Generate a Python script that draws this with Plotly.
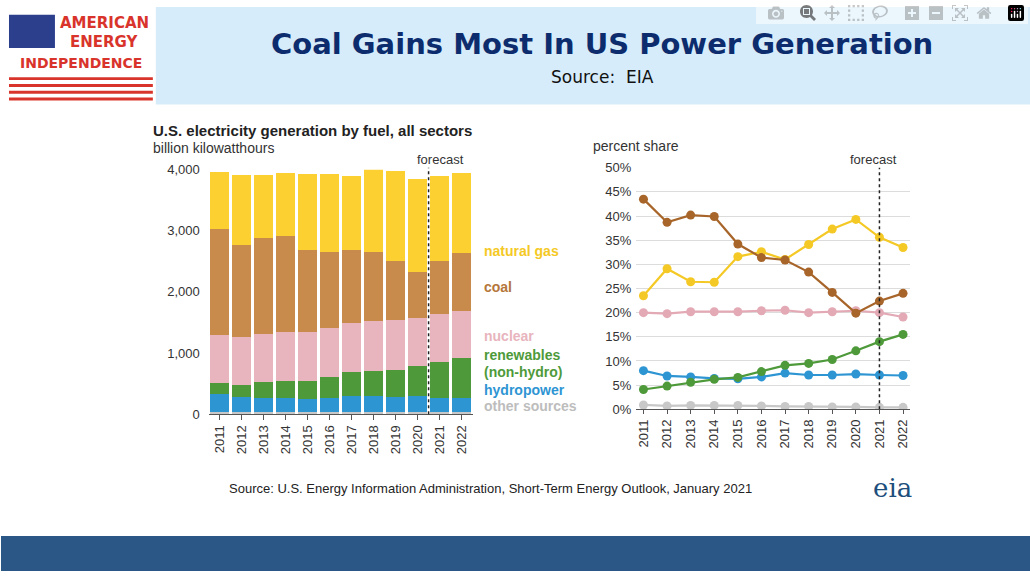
import plotly.graph_objects as go

years = list(range(2011, 2023))

# billion kWh, stacked segments
other_bkwh = [30] * 12
hydro_bkwh = [300, 250, 240, 230, 220, 240, 270, 260, 250, 260, 240, 240]
renew_bkwh = [180, 200, 250, 280, 300, 340, 390, 420, 440, 490, 580, 650]
nuclear_bkwh = [790, 790, 790, 800, 800, 800, 800, 810, 820, 800, 790, 760]
coal_bkwh = [1730, 1490, 1570, 1570, 1330, 1240, 1200, 1140, 960, 750, 860, 950]
gas_bkwh = [930, 1150, 1040, 1040, 1250, 1280, 1200, 1350, 1480, 1520, 1390, 1320]

# percent share
coal_pct = [43.5, 38.7, 40.2, 39.9, 34.2, 31.4, 30.9, 28.4, 24.2, 19.9, 22.4, 24.0]
gas_pct = [23.5, 29.1, 26.4, 26.3, 31.6, 32.6, 31.0, 34.1, 37.3, 39.3, 35.6, 33.5]
nuclear_pct = [20.0, 19.8, 20.2, 20.2, 20.2, 20.4, 20.5, 20.0, 20.2, 20.4, 20.0, 19.1]
renew_pct = [4.1, 4.8, 5.6, 6.2, 6.6, 7.8, 9.1, 9.5, 10.3, 12.1, 14.0, 15.5]
hydro_pct = [8.0, 6.9, 6.7, 6.4, 6.3, 6.7, 7.5, 7.1, 7.1, 7.3, 7.1, 7.0]
other_pct = [0.9, 0.7, 0.8, 0.8, 0.8, 0.7, 0.6, 0.6, 0.5, 0.5, 0.4, 0.4]
pct_ticks = list(range(0, 55, 5))

W, H = 1030, 579
def px(x): return x / W
def py(y): return 1 - y / H

fig = go.Figure()

bars = [(other_bkwh, "#c8c8c8"), (hydro_bkwh, "#2e95d3"), (renew_bkwh, "#4e9a3a"),
        (nuclear_bkwh, "#e8b4bd"), (coal_bkwh, "#c98b4b"), (gas_bkwh, "#fcd030")]
for vals, col in bars:
    fig.add_trace(go.Bar(x=years, y=vals, marker_color=col, marker_line_width=0,
                         xaxis="x", yaxis="y", showlegend=False))

lines = [(other_pct, "#c8c8c8"), (hydro_pct, "#2e95d3"), (renew_pct, "#4e9a3a"),
         (nuclear_pct, "#e3aab6"), (gas_pct, "#f5c925"), (coal_pct, "#a8652a")]
for vals, col in lines:
    fig.add_trace(go.Scatter(x=years, y=vals, mode="lines+markers",
                             line=dict(color=col, width=2.2), marker=dict(color=col, size=9),
                             xaxis="x2", yaxis="y2", showlegend=False))

tickfont = dict(family="Liberation Sans, Arial", size=13, color="#333")
fig.update_layout(
    width=W, height=H, margin=dict(l=0, r=0, t=0, b=0),
    paper_bgcolor="white", plot_bgcolor="white", barmode="stack", bargap=0.12,
    xaxis=dict(domain=[px(208), px(472)], range=[2010.5, 2022.5], tickvals=years,
               tickangle=-90, tickfont=tickfont, showline=True, linecolor="#555",
               ticks="outside", ticklen=5, tickcolor="#555", showgrid=False),
    yaxis=dict(domain=[py(418), py(167)], range=[0, 4000], tickvals=[0, 1000, 2000, 3000, 4000],
               ticktext=["0", "1,000", "2,000", "3,000", "4,000"], tickfont=tickfont,
               showgrid=False, zeroline=False, ticklabelstandoff=8),
    xaxis2=dict(domain=[px(636), px(910)], range=[2010.7, 2022.3], tickvals=years,
                tickangle=-90, tickfont=tickfont, showline=True, linecolor="#555",
                ticks="outside", ticklen=4, tickcolor="#555", showgrid=False, anchor="y2"),
    yaxis2=dict(domain=[py(413), py(165)], range=[0, 50], tickvals=pct_ticks,
                ticktext=[f"{v}%" for v in pct_ticks], tickfont=tickfont,
                showgrid=True, gridcolor="#dcdcdc", zeroline=False, anchor="x2",
                ticklabelstandoff=4),
)

def note(x, y, text, size, color, family="Liberation Sans, Arial", xanchor="center"):
    fig.add_annotation(x=px(x), y=py(y), xref="paper", yref="paper", text=text,
                       xanchor=xanchor, yanchor="middle", showarrow=False,
                       font=dict(family=family, size=size, color=color))

# header and footer bands
fig.add_shape(type="rect", xref="paper", yref="paper", x0=px(155), x1=1, y0=py(100), y1=1,
              fillcolor="#d6ecfa", line_width=0, layer="below")
fig.add_shape(type="rect", xref="paper", yref="paper", x0=0, x1=1, y0=0, y1=py(543),
              fillcolor="#2b5786", line_width=0, layer="below")
# logo flag
fig.add_shape(type="rect", xref="paper", yref="paper", x0=px(8), x1=px(54), y0=py(42), y1=py(8),
              fillcolor="#2c3f8c", line_width=0)
for i in range(4):
    y = 72 + i * 7
    fig.add_shape(type="rect", xref="paper", yref="paper", x0=px(8), x1=px(152),
                  y0=py(y + 3), y1=py(y), fillcolor="#d9342b", line_width=0)
note(104, 16, "<b>AMERICAN</b>", 15, "#d9342b", "DejaVu Sans")
note(104, 36, "<b>ENERGY</b>", 15, "#d9342b", "DejaVu Sans")
note(80, 57, "<b>INDEPENDENCE</b>", 14, "#d9342b", "DejaVu Sans")

note(602, 38, "<b>Coal Gains Most In US Power Generation</b>", 29, "#0c2c6e", "DejaVu Sans")
note(602, 72, "Source:  EIA", 17, "#111", "DejaVu Sans")

# chart titles
note(150, 127, "<b>U.S. electricity generation by fuel, all sectors</b>", 15, "#222", xanchor="left")
note(150, 145, "billion kilowatthours", 14, "#333", xanchor="left")
note(591, 143, "percent share", 14, "#333", xanchor="left")
note(440, 157, "forecast", 13, "#333")
note(873, 157, "forecast", 13, "#333")

# forecast lines
fig.add_shape(type="line", xref="x", yref="paper", x0=2020.5, x1=2020.5, y0=py(418), y1=py(165),
              line=dict(color="#222", width=1.5, dash="dot"))
fig.add_shape(type="line", xref="x2", yref="paper", x0=2021, x1=2021, y0=py(413), y1=py(165),
              line=dict(color="#222", width=1.5, dash="dot"))

# legend labels
legend = [("natural gas", "#f5c925", 250), ("coal", "#b5763a", 287), ("nuclear", "#e8b4bd", 338),
          ("renewables", "#4e9a3a", 357), ("(non-hydro)", "#4e9a3a", 375),
          ("hydropower", "#2e95d3", 393), ("other sources", "#bdbdbd", 410)]
for txt, col, y in legend:
    note(481, y, "<b>" + txt + "</b>", 14, col, xanchor="left")

note(490, 494, "Source: U.S. Energy Information Administration, Short-Term Energy Outlook, January 2021",
     13, "#222")
note(892, 494, "eia", 26, "#1d4f7c", "DejaVu Serif")

fig.write_html("out.html", post_script="document.body.style.margin='0';document.body.style.overflow='hidden';")
